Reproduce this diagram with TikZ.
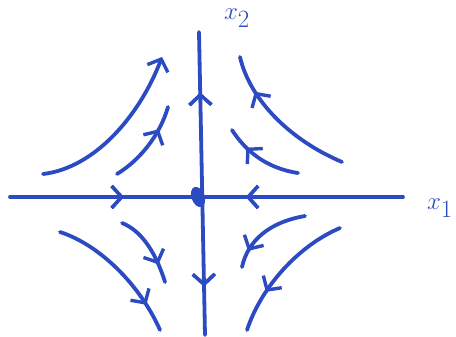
\documentclass[tikz,border=0pt]{standalone}
\usepackage{tikz}
\usetikzlibrary{arrows.meta,decorations.markings}
\definecolor{pen}{HTML}{2C4BC2}

\begin{document}
\begin{tikzpicture}[
  x=1pt, y=-1pt,
  every node/.style={text=pen, font=\fontsize{36}{38}\selectfont},
  stroke/.style={draw=pen, line width=3.8pt, line cap=round},
  head/.style={decoration={markings, mark=at position #1 with
    {\arrow{Straight Barb[length=10pt, width=22pt, line width=3.4pt]}}},
    postaction={decorate}},
  headback/.style={decoration={markings, mark=at position #1 with
    {\arrowreversed{Straight Barb[length=10pt, width=22pt, line width=3.4pt]}}},
    postaction={decorate}}
]
  \useasboundingbox (0,0) rectangle (456,337);

  % axes, origin at (198,197)
  \draw[stroke, head=0.29, headback=0.6] (10,197) -- (403,197);
  \draw[stroke, headback=0.2, head=0.84] (199,32) -- (205,335);
  \fill[pen, rotate around={20:(198,197)}] (198,197) ellipse (6.5 and 10.5);
  \node (xtwo) at (237,18) {$x_{2}$};
  \node (xone) at (440,208) {$x_{1}$};

  % upper left
  \draw[stroke, -{Straight Barb[length=10pt, width=22pt, line width=3.4pt]}]
    (43,174) .. controls (95,168) and (140,115) .. (162,57);
  \draw[stroke, head=0.72] (117,174) .. controls (140,160) and (160,135) .. (168,107);

  % upper right
  \draw[stroke, head=0.75] (342,162) .. controls (290,140) and (250,100) .. (240,57);
  \draw[stroke, head=0.72] (298,173) .. controls (265,168) and (245,150) .. (232,130);

  % lower left
  \draw[stroke, head=0.8] (60,232) .. controls (100,245) and (140,285) .. (160,330);
  \draw[stroke, head=0.75] (122,223) .. controls (140,230) and (155,250) .. (165,282);

  % lower right
  \draw[stroke, head=0.8] (305,216) .. controls (270,222) and (248,240) .. (242,267);
  \draw[stroke, head=0.7] (340,228) .. controls (300,245) and (262,285) .. (247,330);
\end{tikzpicture}
\end{document}
